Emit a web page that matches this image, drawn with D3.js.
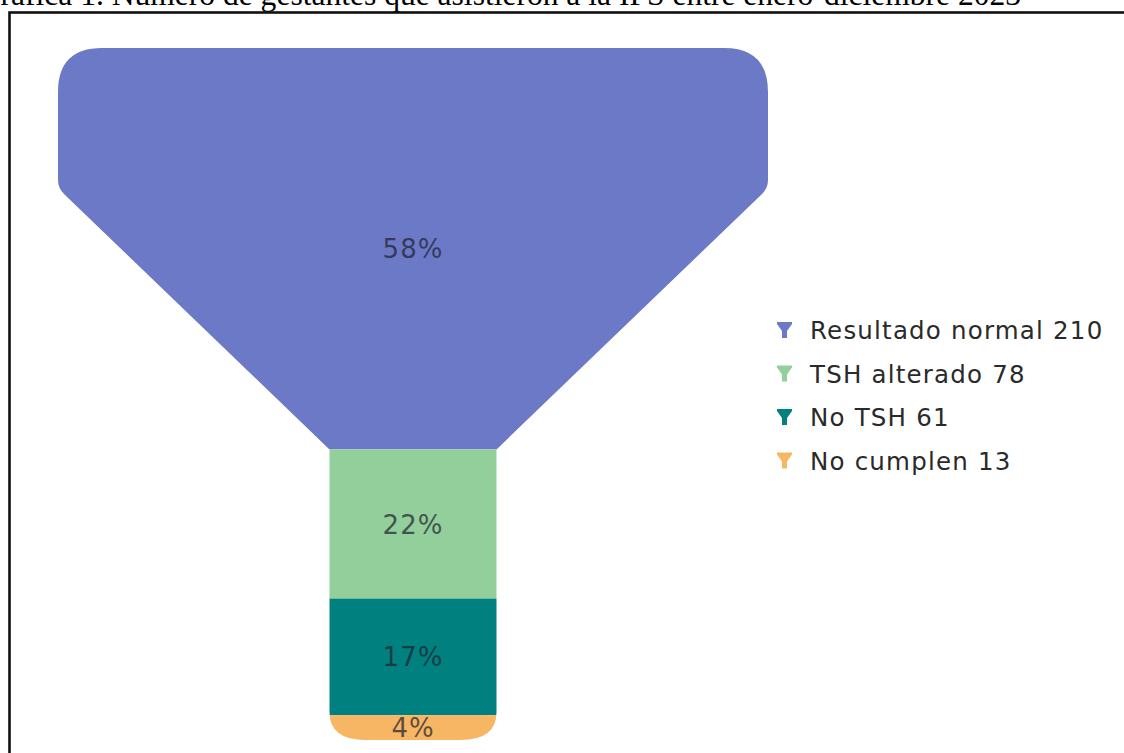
<!DOCTYPE html>
<html>
<head>
<meta charset="utf-8">
<script src="https://cdn.jsdelivr.net/npm/d3@7"></script>
<style>
  html, body { margin: 0; padding: 0; background: #fff; overflow: hidden; }
  svg { display: block; }
</style>
</head>
<body>
<svg id="chart" width="1124" height="753"></svg>
<script>
// Gestantes atendidas en la IPS, enero–diciembre 2023
const categories = ["Resultado normal", "TSH alterado", "No TSH", "No cumplen"];
const counts = [210, 78, 61, 13];
const percentLabels = ["58%", "22%", "17%", "4%"];
const colors = ["#6b79c6", "#93cf9b", "#00807f", "#f6b663"];
const title = "Gráfica 1. Número de gestantes que asistieron a la IPS entre enero-diciembre 2023";

const svg = d3.select("#chart");
const W = 1124, H = 753;
const sansFont = "'DejaVu Sans', Verdana, sans-serif";

// Caption, sized so it runs from the left page edge to x≈1021
const cap = svg.append("text")
  .attr("x", 1021).attr("y", 5)
  .attr("text-anchor", "end")
  .attr("font-family", "Liberation Serif, Times New Roman, serif")
  .attr("font-size", 30)
  .attr("fill", "#000")
  .text(title);
{
  const probe = svg.append("text")
    .attr("font-family", "Liberation Serif, Times New Roman, serif")
    .attr("font-size", 30)
    .text(title.slice(1));
  const w = probe.node().getComputedTextLength();
  probe.remove();
  cap.attr("font-size", 30 * 1021 / w);
}

// Frame around the figure
svg.append("rect")
  .attr("x", 9.5).attr("y", 12.5)
  .attr("width", W + 20).attr("height", H + 20)
  .attr("fill", "none")
  .attr("stroke", "#111")
  .attr("stroke-width", 2.6);

// Cumulative stacking of the counts
const total = d3.sum(counts);
let acc = 0;
const bands = counts.map((v, i) => {
  const b = { i, name: categories[i], value: v, y0: acc, y1: acc + v };
  acc += v;
  return b;
});

const y = d3.scaleLinear().domain([0, total]).range([48, 740]);
const cx = 413;
const wideHalf = 355;   // half-width of the mouth
const stemHalf = 83.5;  // half-width of the stem

// Funnel silhouette: mouth down to first band boundary, then straight stem
const yTop = y(0), yNeck = y(counts[0]), yBot = y(total);
const yShoulder = 188;
const rTop = 44, rBot = 28;
const xl = cx - wideHalf, xr = cx + wideHalf, sl = cx - stemHalf, sr = cx + stemHalf;
const p = d3.path();
p.moveTo(xl + rTop, yTop);
p.lineTo(xr - rTop, yTop);
p.quadraticCurveTo(xr, yTop, xr, yTop + rTop);
p.lineTo(xr, yShoulder - 8);
p.quadraticCurveTo(xr, yShoulder, xr - 6, yShoulder + 6);
p.lineTo(sr, yNeck);
p.lineTo(sr, yBot - rBot);
p.quadraticCurveTo(sr, yBot, sr - rBot - 8, yBot);
p.lineTo(sl + rBot + 8, yBot);
p.quadraticCurveTo(sl, yBot, sl, yBot - rBot);
p.lineTo(sl, yNeck);
p.lineTo(xl + 6, yShoulder + 6);
p.quadraticCurveTo(xl, yShoulder, xl, yShoulder - 8);
p.lineTo(xl, yTop + rTop);
p.quadraticCurveTo(xl, yTop, xl + rTop, yTop);
p.closePath();

const defs = svg.append("defs");
defs.append("clipPath").attr("id", "funnel-clip")
  .append("path").attr("d", p.toString());

const g = svg.append("g").attr("clip-path", "url(#funnel-clip)");
g.selectAll("rect.band")
  .data(bands)
  .join("rect")
  .attr("class", "band")
  .attr("x", xl - 5)
  .attr("width", 2 * wideHalf + 10)
  .attr("y", d => y(d.y0))
  .attr("height", d => y(d.y1) - y(d.y0))
  .attr("fill", d => colors[d.i]);

// Percent labels centred in each band
svg.selectAll("text.pct")
  .data(bands)
  .join("text")
  .attr("class", "pct")
  .attr("x", cx)
  .attr("y", d => (y(d.y0) + y(d.y1)) / 2)
  .attr("dy", "0.37em")
  .attr("text-anchor", "middle")
  .attr("font-family", sansFont)
  .attr("font-size", 26)
  .attr("letter-spacing", 1)
  .attr("fill", "#1f2430")
  .attr("fill-opacity", 0.72)
  .text((d, i) => percentLabels[i]);

// Legend with small funnel glyphs
const legend = svg.append("g").attr("transform", "translate(777,330)");
const rowGap = 43.5;
const icon = "M0,-8 L15,-8 L15,-6 L10,1 L10,8 L5,8 L5,1 L0,-6 Z";
const rows = legend.selectAll("g.row")
  .data(bands)
  .join("g")
  .attr("class", "row")
  .attr("transform", (d, i) => `translate(0,${i * rowGap})`);
rows.append("path")
  .attr("d", icon)
  .attr("fill", d => colors[d.i]);
rows.append("text")
  .attr("x", 33)
  .attr("dy", "0.37em")
  .attr("font-family", sansFont)
  .attr("font-size", 24.5)
  .attr("letter-spacing", 1.2)
  .attr("fill", "#2a2a2a")
  .text(d => `${d.name} ${d.value}`);
</script>
</body>
</html>
